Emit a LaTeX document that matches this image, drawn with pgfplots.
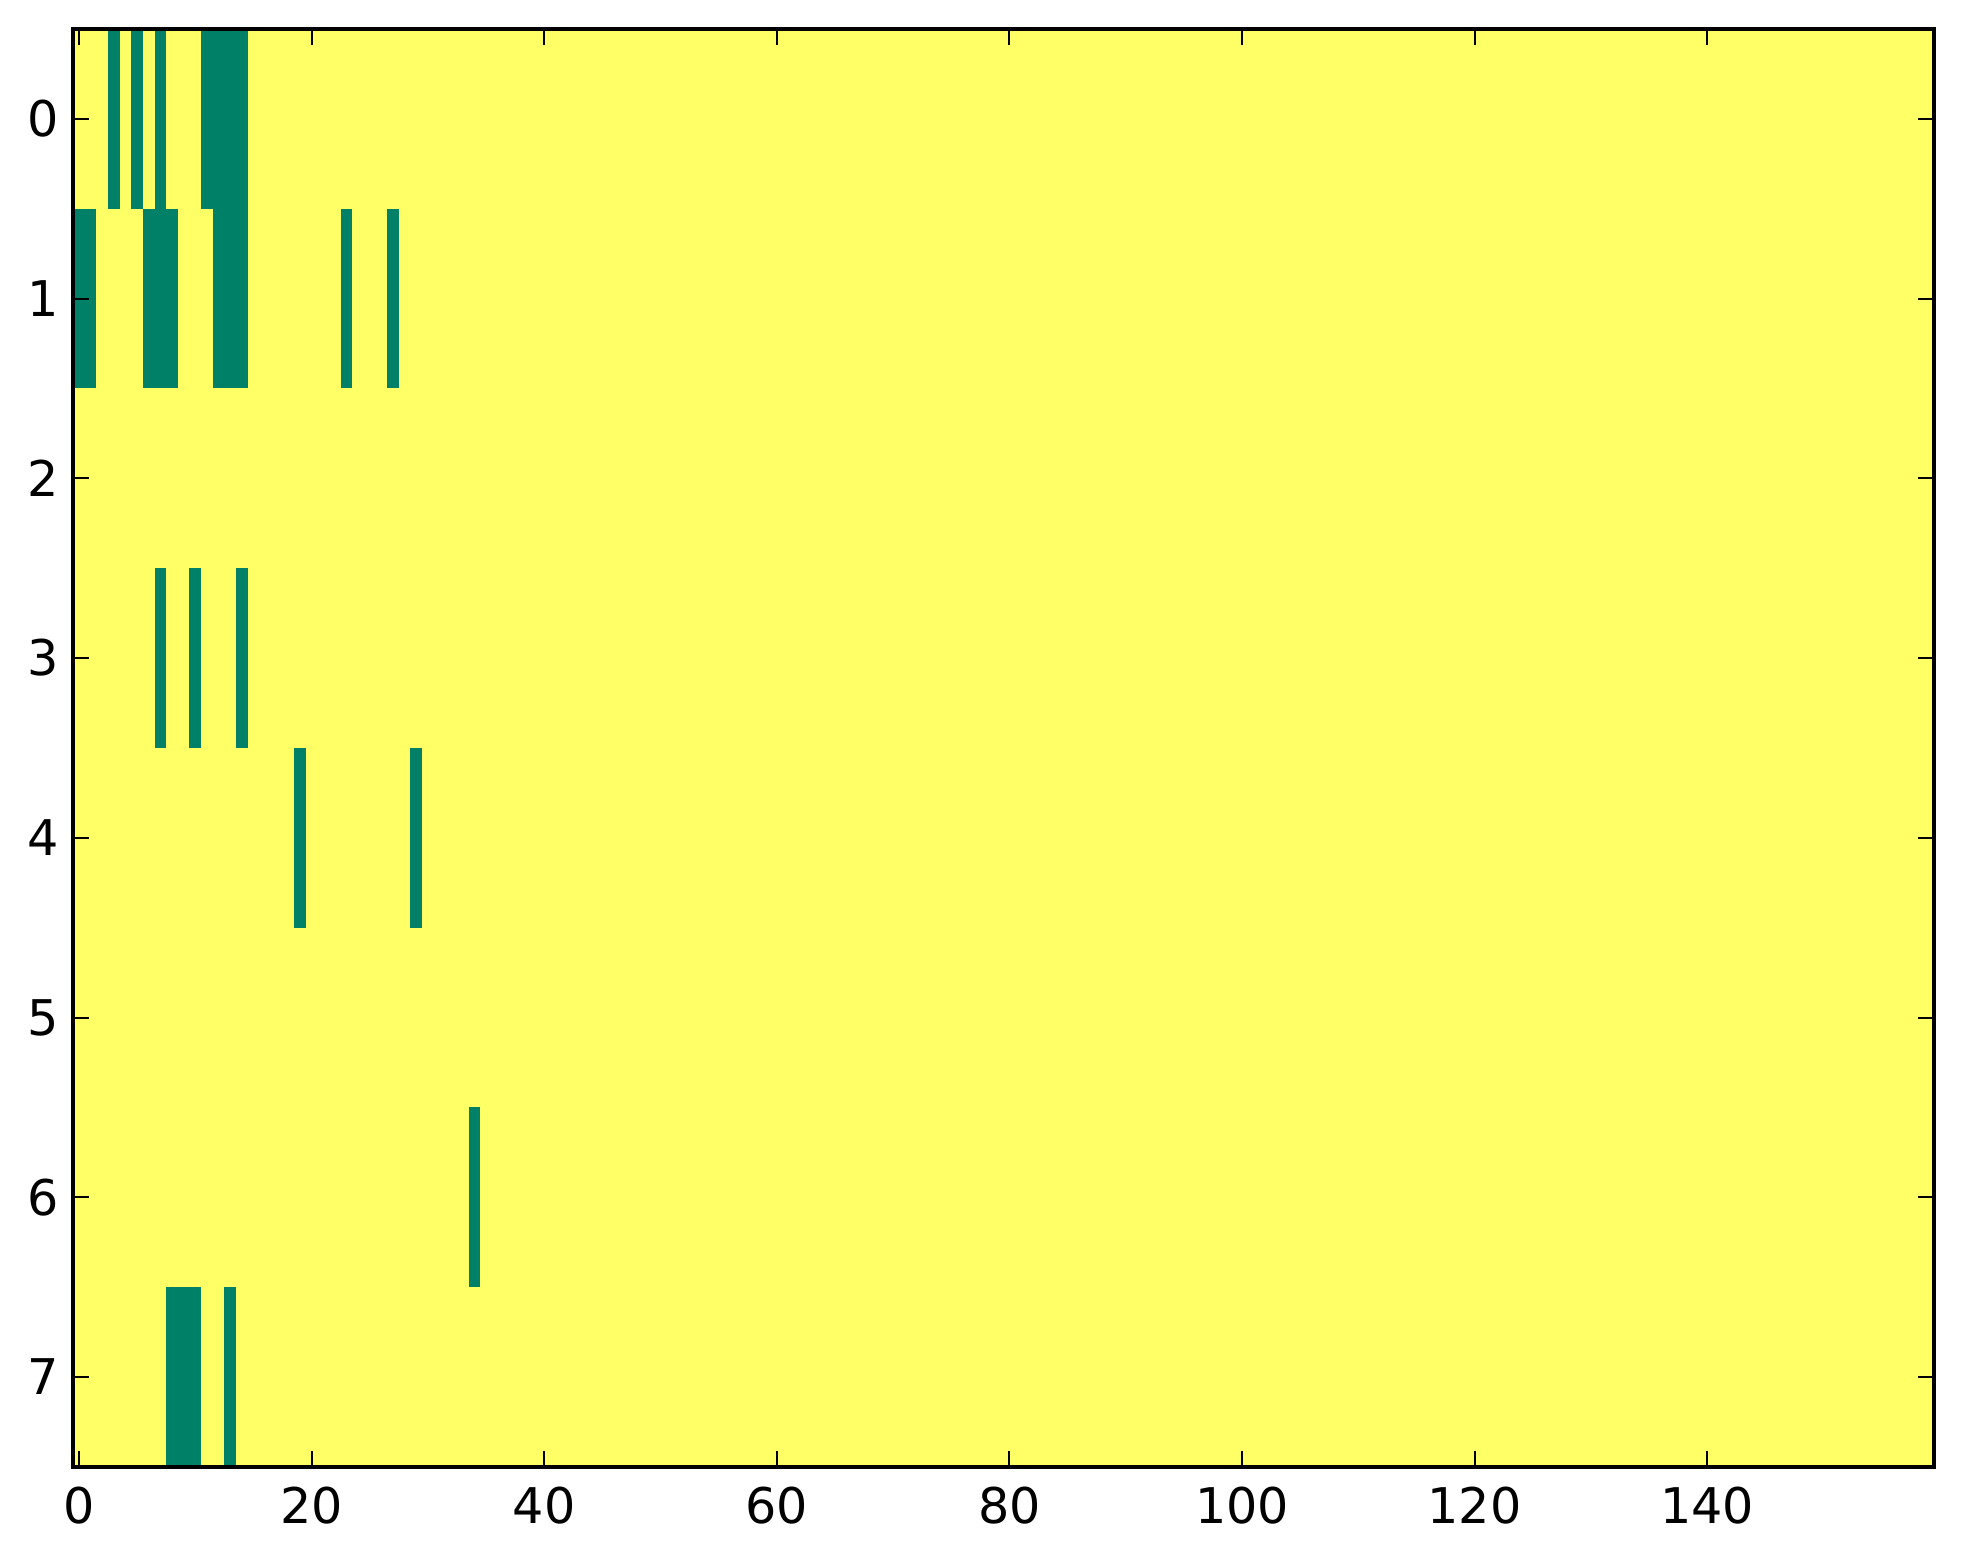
\documentclass[border=0pt]{standalone}
\usepackage{fontspec}
\setmainfont{DejaVu Sans}
\usepackage{pgfplots}
\pgfplotsset{compat=1.18}

% matplotlib "summer" end colours
\definecolor{sumG}{RGB}{0,128,102}
\definecolor{sumY}{RGB}{255,255,102}

\begin{document}
\begin{tikzpicture}
    \path[use as bounding box] (-18.3bp,-24.25bp) rectangle (472.5bp,366.75bp);
    \begin{axis}[
            scale only axis,
            width=465.25bp,
            height=359.5bp,
            xmin=-0.5, xmax=159.5,
            ymin=-0.5, ymax=7.5,
            y dir=reverse,
            xtick={0,20,...,140},
            ytick={0,1,...,7},
            tick align=inside,
            major tick length=3.9bp,
            tick style={black, line width=0.5bp},
            axis line style={line width=1bp},
            axis background/.style={fill=sumY},
            axis on top,
            /pgf/number format/assume math mode=true,
            ticklabel style={font=\fontsize{12.3bp}{14bp}\selectfont},
            xticklabel style={yshift=-1.4bp},
        ]
        % row 0
        \addplot[fill=sumG, draw=none] coordinates {(2.5,-0.5) (3.5,-0.5) (3.5,0.5) (2.5,0.5)} -- cycle;
        \addplot[fill=sumG, draw=none] coordinates {(4.5,-0.5) (5.5,-0.5) (5.5,0.5) (4.5,0.5)} -- cycle;
        \addplot[fill=sumG, draw=none] coordinates {(6.5,-0.5) (7.5,-0.5) (7.5,0.5) (6.5,0.5)} -- cycle;
        \addplot[fill=sumG, draw=none] coordinates {(10.5,-0.5) (14.5,-0.5) (14.5,0.5) (10.5,0.5)} -- cycle;
        % row 1
        \addplot[fill=sumG, draw=none] coordinates {(-0.5,0.5) (1.5,0.5) (1.5,1.5) (-0.5,1.5)} -- cycle;
        \addplot[fill=sumG, draw=none] coordinates {(5.5,0.5) (8.5,0.5) (8.5,1.5) (5.5,1.5)} -- cycle;
        \addplot[fill=sumG, draw=none] coordinates {(11.5,0.5) (14.5,0.5) (14.5,1.5) (11.5,1.5)} -- cycle;
        \addplot[fill=sumG, draw=none] coordinates {(22.5,0.5) (23.5,0.5) (23.5,1.5) (22.5,1.5)} -- cycle;
        \addplot[fill=sumG, draw=none] coordinates {(26.5,0.5) (27.5,0.5) (27.5,1.5) (26.5,1.5)} -- cycle;
        % row 3
        \addplot[fill=sumG, draw=none] coordinates {(6.5,2.5) (7.5,2.5) (7.5,3.5) (6.5,3.5)} -- cycle;
        \addplot[fill=sumG, draw=none] coordinates {(9.5,2.5) (10.5,2.5) (10.5,3.5) (9.5,3.5)} -- cycle;
        \addplot[fill=sumG, draw=none] coordinates {(13.5,2.5) (14.5,2.5) (14.5,3.5) (13.5,3.5)} -- cycle;
        % row 4
        \addplot[fill=sumG, draw=none] coordinates {(18.5,3.5) (19.5,3.5) (19.5,4.5) (18.5,4.5)} -- cycle;
        \addplot[fill=sumG, draw=none] coordinates {(28.5,3.5) (29.5,3.5) (29.5,4.5) (28.5,4.5)} -- cycle;
        % row 6
        \addplot[fill=sumG, draw=none] coordinates {(33.5,5.5) (34.5,5.5) (34.5,6.5) (33.5,6.5)} -- cycle;
        % row 7
        \addplot[fill=sumG, draw=none] coordinates {(7.5,6.5) (10.5,6.5) (10.5,7.5) (7.5,7.5)} -- cycle;
        \addplot[fill=sumG, draw=none] coordinates {(12.5,6.5) (13.5,6.5) (13.5,7.5) (12.5,7.5)} -- cycle;
    \end{axis}
\end{tikzpicture}
\end{document}
